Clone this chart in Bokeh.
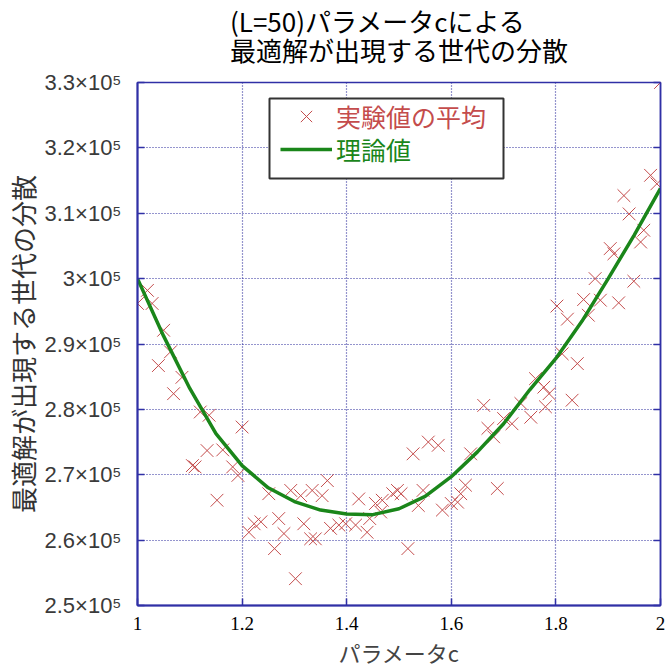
from bokeh.plotting import figure
from bokeh.models import Range1d, FixedTicker, LinearAxis, Legend, LegendItem, Title, BoxAnnotation
from bokeh.embed import file_html
from bokeh.resources import INLINE

# ---- data ----
exp_c = [1.000, 1.019, 1.028, 1.040, 1.050, 1.063, 1.069, 1.085, 1.105, 1.110,
         1.120, 1.133, 1.137, 1.152, 1.163, 1.182, 1.192, 1.200, 1.213, 1.223,
         1.236, 1.251, 1.262, 1.270, 1.280, 1.293, 1.302, 1.312, 1.318, 1.331,
         1.334, 1.340, 1.353, 1.363, 1.369, 1.385, 1.398, 1.417, 1.423, 1.439,
         1.444, 1.455, 1.465, 1.468, 1.488, 1.497, 1.504, 1.517, 1.527, 1.537,
         1.546, 1.556, 1.575, 1.583, 1.600, 1.612, 1.618, 1.627, 1.637, 1.662,
         1.670, 1.681, 1.688, 1.700, 1.716, 1.733, 1.752, 1.761, 1.777, 1.780,
         1.787, 1.802, 1.812, 1.822, 1.831, 1.841, 1.853, 1.862, 1.875, 1.885,
         1.904, 1.911, 1.920, 1.930, 1.940, 1.949, 1.962, 1.968, 1.981, 1.993,
         2.000]
exp_var = [296200, 298200, 296200, 286700, 292100, 288800, 282400, 284900, 271400, 271200,
           279600, 273700, 279100, 266100, 273800, 271200, 269900, 277300, 261200, 262500,
           262800, 267100, 258700, 263300, 261000, 267600, 254100, 266800, 262500, 260200,
           267600, 260200, 266800, 269100, 261800, 262300, 262500, 262300, 266300, 261200,
           263300, 265600, 264300, 266100, 267100, 267600, 267100, 258700, 273200, 265300,
           267600, 275000, 274500, 264600, 265600, 265800, 267100, 268400, 273200, 280600,
           277100, 275800, 267900, 278600, 277800, 280900, 278800, 284700, 283400, 280400,
           282400, 295800, 288500, 293800, 281400, 287000, 296800, 294400, 300000, 296700,
           304600, 303800, 296300, 312700, 309900, 299600, 305600, 307400, 315800, 314500,
           330000]

theory_c = [1.00, 1.05, 1.10, 1.15, 1.20, 1.25, 1.30, 1.35, 1.40, 1.45, 1.50,
            1.55, 1.60, 1.65, 1.70, 1.75, 1.80, 1.85, 1.90, 1.95, 2.00]
theory_var = [300000, 291200, 283200, 276300, 271400, 268000, 265900, 264600, 264000, 263900, 264800,
              266700, 269700, 273500, 277800, 283000, 287800, 293500, 300000, 306700, 313800]

x_ticks = [1, 1.2, 1.4, 1.6, 1.8, 2]
x_tick_labels = ["1", "1.2", "1.4", "1.6", "1.8", "2"]
y_ticks = [250000, 260000, 270000, 280000, 290000, 300000, 310000, 320000, 330000]
y_tick_labels = ["2.5×10⁵", "2.6×10⁵", "2.7×10⁵", "2.8×10⁵", "2.9×10⁵",
                 "3×10⁵", "3.1×10⁵", "3.2×10⁵", "3.3×10⁵"]

title_text = "(L=50)パラメータcによる\n最適解が出現する世代の分散"
x_label = "パラメータc"
y_label = "最適解が出現する世代の分散"
legend_exp = "実験値の平均"
legend_theory = "理論値"

JP = "Noto Sans CJK JP"
AXIS_BLUE = "#3030a6"
GRID_BLUE = "#2a2a9c"
RED = "#c44c4c"
GREEN = "#1a861a"

p = figure(width=669, height=672, output_backend="svg", toolbar_location=None, title=None,
           x_range=Range1d(1, 2), y_range=Range1d(250000, 330000),
           min_border_left=137, min_border_right=9, min_border_top=82, min_border_bottom=67,
           background_fill_color="white", border_fill_color="white")

p.outline_line_color = AXIS_BLUE
p.outline_line_width = 1.5

# spacer between title and frame (first added sits closest to the frame)
p.add_layout(Title(text=" ", text_font_size="10px", standoff=3), "above")
# two-line title
p.add_layout(Title(text=title_text, text_font=JP, text_font_size="26px", text_font_style="normal",
                   text_line_height=0.81, text_color="black", align="center", standoff=-4), "above")

# axes
xa = p.xaxis[0]
xa.ticker = FixedTicker(ticks=x_ticks)
xa.major_label_overrides = dict(zip(x_ticks, x_tick_labels))
xa.major_label_text_font = "Liberation Sans Narrow"
xa.major_label_text_font_size = "19px"
xa.major_label_text_color = "black"
xa.major_label_standoff = 11
xa.axis_label = x_label
xa.axis_label_text_font = JP
xa.axis_label_text_font_size = "22px"
xa.axis_label_text_font_style = "normal"
xa.axis_label_text_color = "#444444"
xa.axis_label_standoff = 3

ya = p.yaxis[0]
ya.ticker = FixedTicker(ticks=y_ticks)
ya.major_label_overrides = dict(zip(y_ticks, y_tick_labels))
ya.major_label_text_font = "Liberation Sans"
ya.major_label_text_font_size = "22px"
ya.major_label_text_color = "#3a3a3a"
ya.major_label_standoff = 16
ya.axis_label = y_label
ya.axis_label_text_font = JP
ya.axis_label_text_font_size = "26px"
ya.axis_label_text_font_style = "normal"
ya.axis_label_text_color = "#333333"
ya.axis_label_standoff = 0

for ax in (xa, ya):
    ax.axis_line_color = AXIS_BLUE
    ax.axis_line_width = 2
    ax.major_tick_line_color = AXIS_BLUE
    ax.major_tick_line_width = 1.5
    ax.major_tick_in = 7
    ax.major_tick_out = 0
    ax.minor_tick_line_color = None

ra = LinearAxis(ticker=FixedTicker(ticks=y_ticks),
                major_label_overrides={t: "" for t in y_ticks},
                major_label_text_color=None,
                axis_line_color=AXIS_BLUE, axis_line_width=1.5,
                major_tick_line_color=AXIS_BLUE, major_tick_line_width=1.5,
                major_tick_in=7, major_tick_out=0, minor_tick_line_color=None,
                major_label_standoff=0)
p.add_layout(ra, "right")

p.xgrid.ticker = FixedTicker(ticks=x_ticks)
p.ygrid.ticker = FixedTicker(ticks=y_ticks)
for g in (p.xgrid[0], p.ygrid[0]):
    g.grid_line_color = GRID_BLUE
    g.grid_line_width = 1.2
    g.grid_line_dash = "1 2"

# data
sc = p.scatter(exp_c, exp_var, marker="x", size=18, line_color=RED, line_width=1)
ln = p.line(theory_c, theory_var, line_color=GREEN, line_width=3.5)

# legend frame
p.add_layout(BoxAnnotation(left=132, right=366, bottom=427, top=507,
                           left_units="screen", right_units="screen",
                           bottom_units="screen", top_units="screen",
                           fill_color="white", fill_alpha=1.0,
                           line_color="#333333", line_width=2, line_alpha=1.0))

common = dict(glyph_width=52, label_standoff=4, label_text_font=JP,
              label_text_font_size="25px", spacing=0, margin=0, padding=0,
              border_line_alpha=0, background_fill_alpha=0)

leg_exp = Legend(items=[LegendItem(label=legend_exp, renderers=[sc])],
                 location=(143, 469), glyph_height=40, label_height=34,
                 label_text_color=RED, **common)
p.add_layout(leg_exp)

leg_th = Legend(items=[LegendItem(label=legend_theory, renderers=[ln])],
                location=(143, 438), glyph_height=36, label_height=34,
                label_text_color=GREEN, **common)
p.add_layout(leg_th)

open("out.html", "w").write(file_html(p, INLINE))
